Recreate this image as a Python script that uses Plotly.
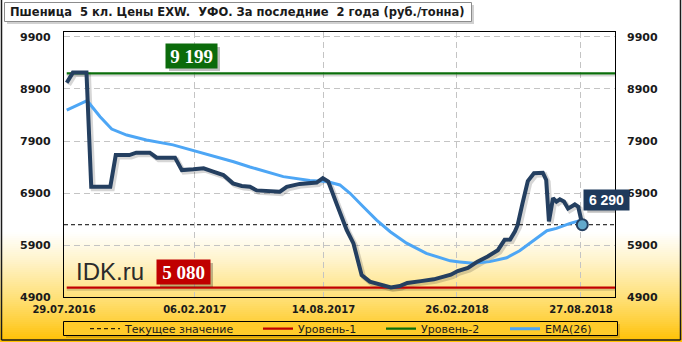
import plotly.graph_objects as go
import pandas as pd

# ---------------- data ----------------
dates = ["2016-08-02","2016-08-11","2016-08-31","2016-09-07","2016-10-05","2016-10-13",
         "2016-11-02","2016-11-12","2016-12-02","2016-12-12","2017-01-08","2017-01-18",
         "2017-02-04","2017-02-19","2017-03-05","2017-03-20","2017-04-03","2017-04-16",
         "2017-04-28","2017-05-08","2017-06-11","2017-06-21","2017-07-10","2017-08-04",
         "2017-08-13","2017-08-21","2017-09-02","2017-09-17","2017-09-27","2017-10-04",
         "2017-10-09","2017-10-21","2017-11-10","2017-11-21","2017-12-04","2017-12-15",
         "2018-01-04","2018-01-23","2018-02-17","2018-02-27","2018-03-14","2018-03-28",
         "2018-04-12","2018-04-27","2018-05-07","2018-05-15","2018-05-22","2018-05-26",
         "2018-06-02","2018-06-10","2018-06-19","2018-07-02","2018-07-07","2018-07-11",
         "2018-07-17","2018-07-22","2018-07-27","2018-08-02","2018-08-08","2018-08-13",
         "2018-08-18","2018-08-23","2018-08-29"]
price = [9020, 9215, 9215, 7020, 7020, 7630,
         7630, 7675, 7675, 7580, 7580, 7340,
         7355, 7375, 7310, 7245, 7085, 7035,
         7020, 6950, 6925, 7020, 7075, 7100,
         7185, 7120, 6700, 6190, 5930, 5550,
         5320, 5195, 5130, 5085, 5110, 5170,
         5205, 5240, 5330, 5400, 5460, 5580,
         5680, 5800, 6000, 6005, 6160, 6280,
         6690, 7130, 7280, 7290, 7150, 6355,
         6800, 6735, 6780, 6735, 6600, 6650,
         6680, 6635, 6290]

ema_dates = ["2016-08-02","2016-09-01","2016-09-20","2016-10-07","2016-10-29","2016-11-27",
             "2017-01-05","2017-02-04","2017-03-15","2017-04-04","2017-04-28","2017-06-16",
             "2017-07-25","2017-08-19","2017-09-07","2017-09-22","2017-10-11","2017-10-31",
             "2017-11-20","2017-12-14","2018-01-12","2018-02-16","2018-03-02","2018-03-22",
             "2018-04-15","2018-05-10","2018-05-29","2018-06-13","2018-06-28","2018-07-08",
             "2018-07-22","2018-08-11","2018-08-29"]
ema = [8495, 8675, 8365, 8130, 8015, 7920,
       7825, 7715, 7585, 7500, 7400, 7215,
       7140, 7120, 7055, 6895, 6640, 6380,
       6155, 5935, 5740, 5595, 5575, 5550,
       5580, 5655, 5790, 5935, 6090, 6175,
       6220, 6315, 6380]

current_value = 6290
level1 = 5080
level2 = 9199

x_range = ["2016-07-29", "2018-10-16"]
y_range = [4900, 9996]
y_ticks = [4900, 5900, 6900, 7900, 8900, 9900]
y_ticktext = ["4900", "5900", "6900", "7900", "8900", "9900"]
x_tickvals = ["2016-07-29", "2017-02-06", "2017-08-14", "2018-02-26", "2018-08-27"]
x_ticktext = ["29.07.2016", "06.02.2017", "14.08.2017", "26.02.2018", "27.08.2018"]

title_text = "Пшеница\u00a0 5 кл. Цены EXW.\u00a0 УФО. За последние\u00a0 2 года (руб./тонна)"
legend_names = ["Текущее значение", "Уровень-1", "Уровень-2", "EMA(26)"]

def fmt(v):
    return f"{v:,}".replace(",", " ")

# ---------------- geometry ----------------
W, H = 682, 342
ML, MR, MT, MB = 64, 67, 32, 45
PW = W - ML - MR
PH = H - MT - MB

def px(x):
    return (x - ML) / PW

def py(y):
    return (H - MB - y) / PH

# pixel -> data conversions for drop shadows (2 px right, 2 px down)
x0_ts, x1_ts = pd.Timestamp(x_range[0]), pd.Timestamp(x_range[1])
days_per_px = (x1_ts - x0_ts).total_seconds() / 86400 / PW
units_per_px = (y_range[1] - y_range[0]) / PH
sh_dx = pd.Timedelta(days=2 * days_per_px)
sh_dy = 2 * units_per_px

NAVY = "#243F60"
BLUE = "#4DA6F5"
GREEN = "#0A6E0A"
RED = "#C00000"
SHADOW = "rgba(0,0,0,0.16)"

fig = go.Figure()

# shadows
for lv in (level1, level2):
    fig.add_trace(go.Scatter(x=[dates[0], x_range[1]], y=[lv - sh_dy] * 2, mode="lines",
                             line=dict(color=SHADOW, width=2), showlegend=False, hoverinfo="skip"))
fig.add_trace(go.Scatter(x=pd.to_datetime(dates) + sh_dx, y=[v - sh_dy for v in price],
                         mode="lines", line=dict(color=SHADOW, width=5),
                         showlegend=False, hoverinfo="skip"))

fig.add_trace(go.Scatter(x=x_range, y=[current_value]*2, mode="lines",
                         line=dict(color="black", width=1, dash="4px,3px"),
                         name=legend_names[0], legend="legend", hoverinfo="skip"))
fig.add_trace(go.Scatter(x=[dates[0], x_range[1]], y=[level1]*2, mode="lines",
                         line=dict(color=RED, width=2.2), name=legend_names[1],
                         legend="legend2", hoverinfo="skip"))
fig.add_trace(go.Scatter(x=[dates[0], x_range[1]], y=[level2]*2, mode="lines",
                         line=dict(color=GREEN, width=2.2), name=legend_names[2],
                         legend="legend3", hoverinfo="skip"))
fig.add_trace(go.Scatter(x=ema_dates, y=ema, mode="lines",
                         line=dict(color=BLUE, width=3), name=legend_names[3], legend="legend4"))
fig.add_trace(go.Scatter(x=dates, y=price, mode="lines",
                         line=dict(color=NAVY, width=4), showlegend=False))
fig.add_trace(go.Scatter(x=[dates[-1]], y=[price[-1]], mode="markers",
                         marker=dict(size=11, color="#62A9CC", line=dict(color=NAVY, width=2)),
                         showlegend=False))
# invisible trace for right axis
fig.add_trace(go.Scatter(x=[x_range[0]], y=[y_range[0]], yaxis="y2", mode="markers",
                         marker=dict(opacity=0), showlegend=False, hoverinfo="skip"))

# ---------------- background gradient ----------------
stops = [(0, (255, 255, 255)), (232, (255, 255, 255)), (262, (255, 243, 200)),
         (297, (255, 225, 122)), (322, (255, 208, 60)), (342, (255, 192, 0))]
shapes = []
def color_at(y):
    for (y0, c0), (y1, c1) in zip(stops[:-1], stops[1:]):
        if y0 <= y <= y1:
            t = (y - y0) / (y1 - y0) if y1 > y0 else 0
            return tuple(round(a + (b - a) * t) for a, b in zip(c0, c1))
    return stops[-1][1]

shapes.append(dict(type="rect", xref="paper", yref="paper", x0=px(0), x1=px(W),
                   y0=py(232), y1=py(0), fillcolor="white", line=dict(width=0), layer="below"))
step = 2
for y in range(232, 342, step):
    c = color_at(y + step / 2)
    shapes.append(dict(type="rect", xref="paper", yref="paper", x0=px(0), x1=px(W),
                       y0=py(y + step), y1=py(y), fillcolor=f"rgb{c}",
                       line=dict(width=0), layer="below"))

# outer frame (left, right, bottom)
for (x0, y0, x1, y1) in [(1.5, 0, 1.5, 340), (680.5, 0, 680.5, 340), (1.5, 340, 680.5, 340)]:
    shapes.append(dict(type="line", xref="paper", yref="paper", x0=px(x0), x1=px(x1),
                       y0=py(y0), y1=py(y1), line=dict(color="#1a1a1a", width=1.5)))

# legend box
shapes.append(dict(type="rect", xref="paper", yref="paper", x0=px(66), x1=px(620),
                   y0=py(338), y1=py(324), fillcolor="rgba(120,80,0,0.25)", line=dict(width=0)))
shapes.append(dict(type="rect", xref="paper", yref="paper", x0=px(63.5), x1=px(617.5),
                   y0=py(335.5), y1=py(321.5), fillcolor=f"rgb{color_at(328)}",
                   line=dict(color="black", width=1)))

# title box
shapes.append(dict(type="rect", xref="paper", yref="paper", x0=px(7), x1=px(474),
                   y0=py(24), y1=py(5), fillcolor="rgba(0,0,0,0.18)", line=dict(width=0)))
shapes.append(dict(type="rect", xref="paper", yref="paper", x0=px(4.5), x1=px(471.5),
                   y0=py(21.5), y1=py(2.5), fillcolor="white", line=dict(color="#8c8c8c", width=1)))

annotations = []
annotations.append(dict(text=title_text, xref="paper", yref="paper", x=px(7.5), y=py(12.5),
                        xanchor="left", yanchor="middle", showarrow=False,
                        font=dict(family="DejaVu Sans", size=11.5, color="#1a1a1a", weight="bold")))

def value_box(text, xc, yval, yshift, bg, fam, size, w, h, xref="paper", xshift=0):
    bw, bh = w + 6, h + 6
    sh = dict(type="rect", yref="y", ysizemode="pixel", yanchor=yval,
              y0=yshift - bh / 2 - 3, y1=yshift + bh / 2 - 3,
              fillcolor="rgba(0,0,0,0.25)", line=dict(width=0))
    if xref == "paper":
        sh.update(xref="paper", x0=xc + 3 / PW - bw / 2 / PW, x1=xc + 3 / PW + bw / 2 / PW)
    else:
        sh.update(xref="x", xsizemode="pixel", xanchor=xc,
                  x0=xshift - bw / 2 + 3, x1=xshift + bw / 2 + 3)
    shapes.append(sh)
    annotations.append(dict(text=text, xref=xref, yref="y", x=xc, y=yval,
                            xanchor="center", yanchor="middle",
                            yshift=yshift, xshift=xshift, showarrow=False,
                            bgcolor=bg, width=w, height=h, borderpad=3,
                            font=dict(size=size, color="white", family=fam, weight="bold")))

value_box(fmt(level2), px(191.5), level2, 17.5, "#0B6B0B", "Liberation Serif", 19, 45, 18)
value_box(fmt(level1), px(183.5), level1, 15.6, "#C00000", "Liberation Serif", 19, 47, 18)
value_box(fmt(current_value), dates[-1], price[-1], 25, "#1F3A5C", "Liberation Sans", 14, 39, 14,
          xref="x", xshift=24.5)

annotations.append(dict(text="IDK.ru", xref="paper", yref="paper", x=px(109.5), y=py(271),
                        xanchor="center", yanchor="middle", showarrow=False,
                        font=dict(family="Liberation Sans", size=24, color="#2b2b2b")))

legend_font = dict(family="DejaVu Sans", size=11, color="#1a1a1a")
def leg(sample_x):
    return dict(orientation="h", x=px(sample_x - 5), xanchor="left", y=py(328.7),
                yanchor="middle", bgcolor="rgba(0,0,0,0)", borderwidth=0,
                font=legend_font, itemwidth=30)

fig.update_layout(
    width=W, height=H, margin=dict(l=ML, r=MR, t=MT, b=MB, autoexpand=False),
    paper_bgcolor="rgba(0,0,0,0)", plot_bgcolor="rgba(0,0,0,0)",
    showlegend=True,
    legend=leg(90), legend2=leg(263), legend3=leg(386), legend4=leg(510),
    xaxis=dict(type="date", range=x_range, tickvals=x_tickvals, ticktext=x_ticktext,
               showgrid=True, gridcolor="#C4C4C4", griddash="6px,4px", gridwidth=1,
               showline=True, linecolor="black", linewidth=1.3, mirror=True,
               ticks="", ticklabelstandoff=3, zeroline=False, automargin=False,
               tickfont=dict(family="DejaVu Sans", size=10, color="#1a1a1a", weight="bold")),
    yaxis=dict(range=y_range, tickvals=y_ticks, ticktext=y_ticktext, showgrid=True,
               gridcolor="#C4C4C4", griddash="6px,4px", gridwidth=1, showline=True,
               linecolor="black", linewidth=1.3, mirror=True, ticks="", ticklabelstandoff=10,
               zeroline=False, automargin=False,
               tickfont=dict(family="DejaVu Sans", size=11, color="#1a1a1a", weight="bold")),
    yaxis2=dict(range=y_range, tickvals=y_ticks, ticktext=y_ticktext, overlaying="y",
                side="right", showgrid=False, zeroline=False, ticks="", ticklabelstandoff=11,
                automargin=False,
                tickfont=dict(family="DejaVu Sans", size=11, color="#1a1a1a", weight="bold")),
    shapes=shapes, annotations=annotations,
)

fig.write_html("out.html")
